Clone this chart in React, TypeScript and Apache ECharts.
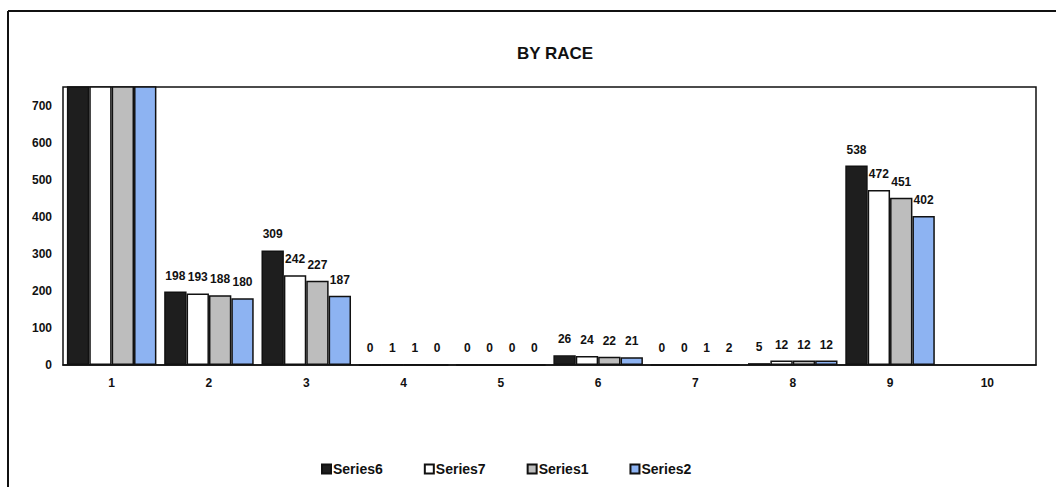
import React, { useEffect, useRef } from "react";
import * as echarts from "echarts";

const categories = ["1", "2", "3", "4", "5", "6", "7", "8", "9", "10"];
const series6 = [900, 198, 309, 0, 0, 26, 0, 5, 538, null];
const series7 = [890, 193, 242, 1, 0, 24, 0, 12, 472, null];
const series1 = [880, 188, 227, 1, 0, 22, 1, 12, 451, null];
const series2 = [860, 180, 187, 0, 0, 21, 2, 12, 402, null];
const seriesNames = ["Series6", "Series7", "Series1", "Series2"];
const seriesColors = ["#1e1e1e", "#ffffff", "#bdbdbd", "#8db3f2"];
const yTicks = [0, 100, 200, 300, 400, 500, 600, 700];
const Y_MAX = 750;

const FONT = "Liberation Sans, Arial, sans-serif";

export default function App() {
  const ref = useRef<HTMLDivElement>(null);
  useEffect(() => {
    if (!ref.current) return;
    const chart = echarts.init(ref.current, null, { renderer: "svg" });
    const all = [series6, series7, series1, series2];
    const mkData = (arr: (number | null)[]) =>
      arr.map((v, i) =>
        v === null
          ? null
          : i === 0
          ? { value: v, label: { show: false } }
          : v
      );
    chart.setOption({
      animation: false,
      backgroundColor: "#ffffff",
      title: {
        text: "BY RACE",
        left: 550,
        top: 40,
        textAlign: "center",
        textStyle: { fontFamily: FONT, fontSize: 17, fontWeight: "bold", color: "#111" },
      },
      legend: {
        left: 316,
        top: 457,
        itemWidth: 9,
        itemHeight: 9,
        itemGap: 41,
        itemStyle: { borderWidth: 2 },
        icon: "rect",
        textStyle: { fontFamily: FONT, fontSize: 14, fontWeight: "bold", color: "#111", padding: [0, 0, 0, -3] },
        data: seriesNames,
      },
      graphic: [
        { type: "line", shape: { x1: 8, y1: 11, x2: 8, y2: 487 }, style: { stroke: "#111", lineWidth: 2 } },
        { type: "line", shape: { x1: 8, y1: 11, x2: 1056, y2: 11 }, style: { stroke: "#111", lineWidth: 2 } },
      ],
      grid: {
        left: 63,
        right: 20,
        top: 87,
        bottom: 122,
        show: true,
        borderColor: "#111",
        borderWidth: 1.5,
      },
      xAxis: {
        type: "category",
        data: categories,
        axisLine: { lineStyle: { color: "#111", width: 1.5 } },
        axisTick: { show: false },
        axisLabel: { fontFamily: FONT, fontSize: 12, fontWeight: "bold", color: "#111", margin: 12 },
      },
      yAxis: {
        type: "value",
        min: 0,
        max: Y_MAX,
        interval: 100,
        splitLine: { show: false },
        axisLine: { show: false },
        axisTick: { show: false },
        axisLabel: {
          fontFamily: FONT,
          fontSize: 12,
          fontWeight: "bold",
          color: "#111",
          margin: 11,
          showMaxLabel: false,
          formatter: (v: number) => (yTicks.includes(v) ? String(v) : ""),
        },
      },
      series: all.map((arr, k) => ({
        name: seriesNames[k],
        type: "bar",
        data: mkData(arr),
        barGap: "0%",
        barCategoryGap: "8%",
        clip: true,
        itemStyle: { color: seriesColors[k], borderColor: "#111", borderWidth: 1.5 },
        label: {
          show: true,
          position: "top",
          distance: 10,
          fontFamily: FONT,
          fontSize: 12,
          fontWeight: "bold",
          color: "#111",
        },
      })),
    });
    return () => chart.dispose();
  }, []);
  return (
    <div
      ref={ref}
      style={{ position: "fixed", left: 0, top: 0, width: 1056, height: 487 }}
    />
  );
}
